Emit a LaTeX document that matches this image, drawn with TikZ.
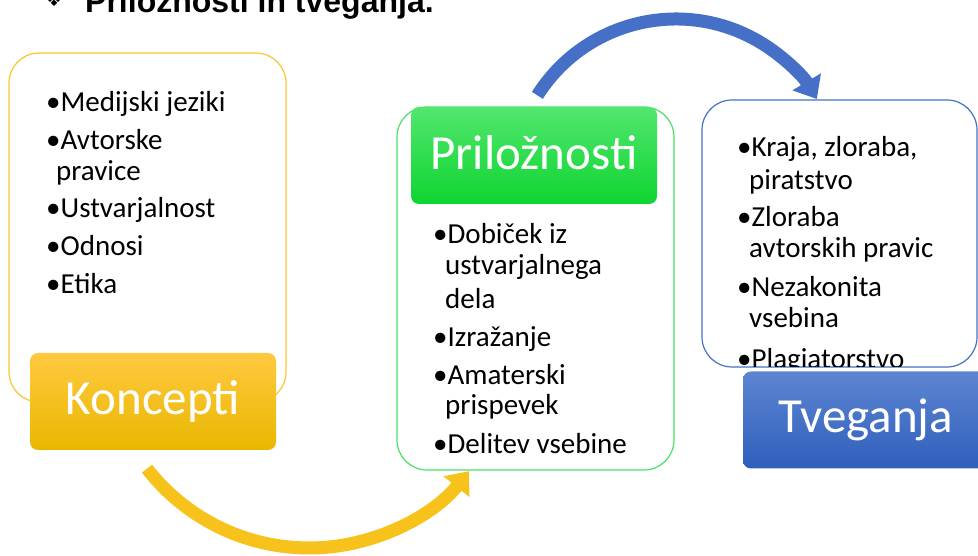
\documentclass[tikz,border=0pt]{standalone}
\usepackage{fontspec}
\setmainfont{Carlito}
\newfontfamily\titlefont{Liberation Sans}
\newfontfamily\symfont{DejaVu Sans}
\usetikzlibrary{arrows.meta,calc}
\definecolor{yOut}{HTML}{FAC630}
\definecolor{yTop}{HTML}{FFC940}
\definecolor{yBot}{HTML}{E9B700}
\definecolor{yArr}{HTML}{F7C21C}
\definecolor{gOut}{HTML}{4CE068}
\definecolor{gTop}{HTML}{52E66E}
\definecolor{gBot}{HTML}{0ED530}
\definecolor{bOut}{HTML}{4472C4}
\definecolor{bTop}{HTML}{5D85D2}
\definecolor{bBot}{HTML}{2F5FBC}
\definecolor{bArr}{HTML}{4670C8}
\begin{document}
\begin{tikzpicture}[x=1pt,y=1pt,
  outl/.style={draw, line width=1.2pt, rounded corners=30pt, fill=white, inner sep=0pt},
  headbox/.style={rounded corners=8pt, inner sep=0pt, minimum width=246pt, minimum height=97pt},
  headtxt/.style={anchor=base, inner sep=0pt, text=white, font=\fontsize{49}{49}\selectfont},
  itemtxt/.style={anchor=base west, inner sep=0pt, text=black, font=\fontsize{29}{29}\selectfont},
  arcarrow/.style={line width=13pt, -{Triangle[width=32pt,length=20pt]}}]
\useasboundingbox (0,0) rectangle (978,556);
\clip (0,0) rectangle (978,556);

% title (cut at top)
\node[anchor=base west, inner sep=0pt, font=\fontsize{20}{20}\selectfont] (tbul) at (45,549) {\symfont ❖};
\node[anchor=base west, inner sep=0pt, font=\fontsize{32}{32}\selectfont] (title) at (85,543) {\titlefont\bfseries Priložnosti in tveganja.};

% arrows
\coordinate (yc) at (309,213);
\coordinate (bc) at (676,373);
\draw[arcarrow, yArr] ($(yc)+(217.8:205)$) arc[start angle=217.8, end angle=321.3, radius=205];
\draw[arcarrow, bArr] ($(bc)+(147.7:164)$) arc[start angle=147.7, end angle=30.8, radius=164];

% yellow group
\node[outl, draw=yOut, minimum width=277pt, minimum height=349pt] (ybox) at (147.5,328.5) {};
\node[itemtxt] (y1) at (46,444) {•Medijski jeziki};
\node[itemtxt] (y2) at (46,406) {•Avtorske};
\node[itemtxt] (y3) at (56,375) {pravice};
\node[itemtxt] (y4) at (46,338) {•Ustvarjalnost};
\node[itemtxt] (y5) at (46,300) {•Odnosi};
\node[itemtxt] (y6) at (46,262) {•Etika};
\node[headbox, top color=yTop, bottom color=yBot] (kbox) at (153,154.5) {};
\node[headtxt] (ktxt) at (153,141) {Koncepti};

% green group
\node[outl, draw=gOut, minimum width=277pt, minimum height=363pt] (gbox) at (535.5,267.5) {};
\node[headbox, top color=gTop, bottom color=gBot] (pbox) at (534,400.5) {};
\node[headtxt] (ptxt) at (534,386) {Priložnosti};
\node[itemtxt] (g1) at (433,312) {•Dobiček iz};
\node[itemtxt] (g2) at (445,281) {ustvarjalnega};
\node[itemtxt] (g3) at (445,247) {dela};
\node[itemtxt] (g4) at (433,209) {•Izražanje};
\node[itemtxt] (g5) at (433,171) {•Amaterski};
\node[itemtxt] (g6) at (445,141) {prispevek};
\node[itemtxt] (g7) at (433,102) {•Delitev vsebine};

% blue group
\node[outl, draw=bOut, minimum width=275pt, minimum height=267pt] (bbox) at (839.5,322.5) {};
\node[itemtxt] (b1) at (737,399) {•Kraja, zloraba,};
\node[itemtxt] (b2) at (749,366) {piratstvo};
\node[itemtxt] (b3) at (737,329) {•Zloraba};
\node[itemtxt] (b4) at (749,298) {avtorskih pravic};
\node[itemtxt] (b5) at (737,259) {•Nezakonita};
\node[itemtxt] (b6) at (749,228) {vsebina};
\begin{scope}
  \clip (700,189.6) rectangle (978,300);
  \node[itemtxt] (b7) at (737,187) {•Plagiatorstvo};
\end{scope}
\node[headbox, top color=bTop, bottom color=bBot] (tbox) at (866,136) {};
\node[headtxt] (ttxt) at (866,123) {Tveganja};
\end{tikzpicture}
\end{document}
